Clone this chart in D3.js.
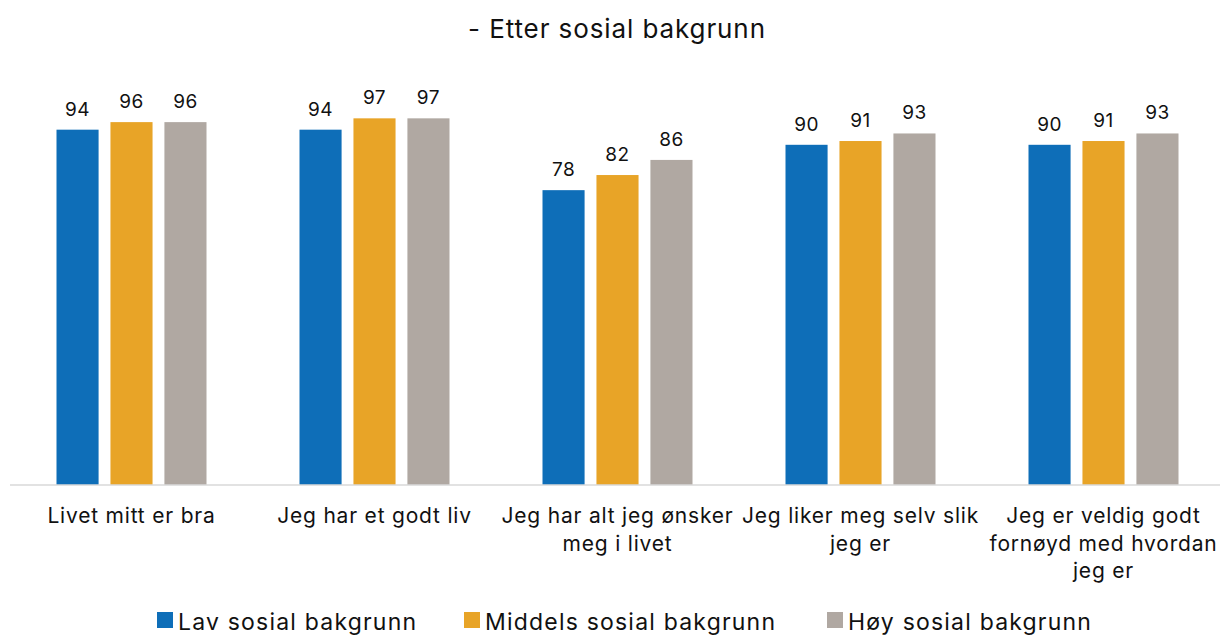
<!DOCTYPE html>
<html>
<head>
<meta charset="utf-8">
<script src="https://cdn.jsdelivr.net/npm/d3@7"></script>
<style>
  body { margin: 0; background: #fff; }
  text { font-family: Inter, "Liberation Sans", sans-serif; fill: #111; }
</style>
</head>
<body>
<div id="chart"></div>
<script>
const categories = [
  "Livet mitt er bra",
  "Jeg har et godt liv",
  "Jeg har alt jeg ønsker meg i livet",
  "Jeg liker meg selv slik jeg er",
  "Jeg er veldig godt fornøyd med hvordan jeg er"
];
const categoryLines = [
  ["Livet mitt er bra"],
  ["Jeg har et godt liv"],
  ["Jeg har alt jeg ønsker", "meg i livet"],
  ["Jeg liker meg selv slik", "jeg er"],
  ["Jeg er veldig godt", "fornøyd med hvordan", "jeg er"]
];
const seriesNames = ["Lav sosial bakgrunn", "Middels sosial bakgrunn", "Høy sosial bakgrunn"];
const lav = [94, 94, 78, 90, 90];
const middels = [96, 97, 82, 91, 91];
const hoy = [96, 97, 86, 93, 93];
const colours = ["#0e6eb8", "#e8a427", "#b0a8a2"];

const width = 1220, height = 635;
const svg = d3.select("#chart").append("svg")
  .attr("width", width).attr("height", height);

const series = [lav, middels, hoy];

const x0 = d3.scaleBand().domain(categories).range([10, 1225]).paddingInner(0).paddingOuter(0);
const x1 = d3.scaleBand().domain(d3.range(3)).range([x0.bandwidth() / 2 - 75, x0.bandwidth() / 2 + 75]).paddingInner(0.22);
const y = d3.scaleLinear().domain([0, 100]).range([485, 107]);

svg.append("text")
  .attr("x", 617).attr("y", 38)
  .attr("text-anchor", "middle")
  .style("font-size", "26px")
  .style("letter-spacing", "0.9px")
  .text("- Etter sosial bakgrunn");

const groups = svg.selectAll("g.grp").data(categories).join("g")
  .attr("class", "grp")
  .attr("transform", d => `translate(${x0(d)},0)`);

groups.each(function(cat, i) {
  const g = d3.select(this);
  series.forEach((s, k) => {
    g.append("rect")
      .attr("x", x1(k)).attr("width", x1.bandwidth())
      .attr("y", y(s[i])).attr("height", y(0) - y(s[i]))
      .attr("fill", colours[k]);
    g.append("text")
      .attr("x", x1(k) + x1.bandwidth() / 2)
      .attr("y", y(s[i]) - 14)
      .attr("text-anchor", "middle")
      .style("font-size", "19px")
      .style("letter-spacing", "0.5px")
      .text(s[i]);
  });
});

// axis
const axis = svg.append("g").attr("transform", `translate(0,${y(0)})`)
  .call(d3.axisBottom(x0).tickSize(0).tickFormat(""));
axis.select(".domain").attr("stroke", "#d9d9d9").attr("stroke-width", 1.5)
  .attr("d", "M10,0H1220");

groups.each(function(cat, i) {
  const t = d3.select(this).append("text")
    .attr("text-anchor", "middle")
    .style("font-size", "21px")
    .style("letter-spacing", "0.8px");
  categoryLines[i].forEach((ln, j) => {
    t.append("tspan").attr("x", x0.bandwidth() / 2).attr("y", 523 + j * 27.5).text(ln);
  });
});

// legend
const legend = svg.append("g");
const legendX = [157, 464, 827];
seriesNames.forEach((name, k) => {
  legend.append("rect")
    .attr("x", legendX[k]).attr("y", 612).attr("width", 16).attr("height", 16)
    .attr("fill", colours[k]);
  legend.append("text")
    .attr("x", legendX[k] + 21).attr("y", 630)
    .style("font-size", "23px")
    .style("letter-spacing", "1.2px")
    .text(name);
});
</script>
</body>
</html>
